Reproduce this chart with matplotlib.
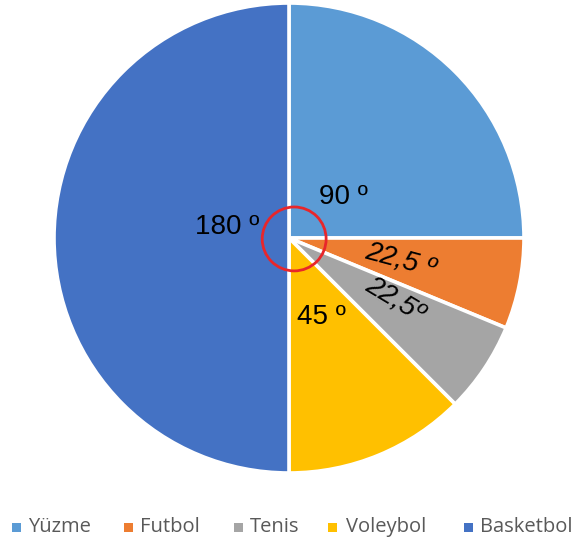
import matplotlib
matplotlib.use("Agg")
import matplotlib.pyplot as plt
from matplotlib.patches import Circle, Rectangle

# Degree share of each sport
sports = ["Yüzme", "Futbol", "Tenis", "Voleybol", "Basketbol"]
degrees = [90, 22.5, 22.5, 45, 180]
colors = ["#5B9BD5", "#ED7D31", "#A5A5A5", "#FFC000", "#4472C4"]

# Slice annotations: text, position (pie units), rotation, italic
label_texts = ["90 º", "22,5 º", "22,5º", "45 º", "180 º"]
label_pos = [(0.23, 0.175), (0.475, -0.095), (0.45, -0.262), (0.14, -0.335), (-0.265, 0.047)]
label_rot = [0, -15, -31, 0, 0]
label_italic = [False, True, True, False, False]

fig = plt.figure(figsize=(5.78, 5.47), dpi=100)
ax = fig.add_axes([0.0934, 0.1353, 0.8132, 0.8592])

wedges, _ = ax.pie(degrees, colors=colors, startangle=90, counterclock=False,
                   radius=1.0, wedgeprops=dict(edgecolor="white", linewidth=2.6))
ax.set_xlim(-1, 1)
ax.set_ylim(-1, 1)
ax.set_aspect("equal")

for t, (x, y), r, it in zip(label_texts, label_pos, label_rot, label_italic):
    ax.text(x, y, t, ha="center", va="center", rotation=r,
            fontsize=20, family="Liberation Sans",
            style="italic" if it else "normal", color="black")

# Red ring marking the centre of the circle
ax.add_patch(Circle((0.022, -0.004), 0.136, fill=False, edgecolor="#E8262A",
                    linewidth=2.0, zorder=5))

# Legend row along the bottom
marker_x = [16.5, 128, 238, 332, 468]
text_x = [28, 140, 250, 346, 480]
ly = 527
W, H = 578, 547
for name, c, mx, tx in zip(sports, colors, marker_x, text_x):
    fig.patches.append(Rectangle(((mx - 4.5) / W, (H - ly - 4.5) / H), 9 / W, 9 / H,
                                 transform=fig.transFigure, facecolor=c, edgecolor="none"))
    fig.text(tx / W, (H - ly) / H, name, ha="left", va="center",
             fontsize=14.5, family="Open Sans", color="#595959")

fig.savefig("out.png", dpi=100)
